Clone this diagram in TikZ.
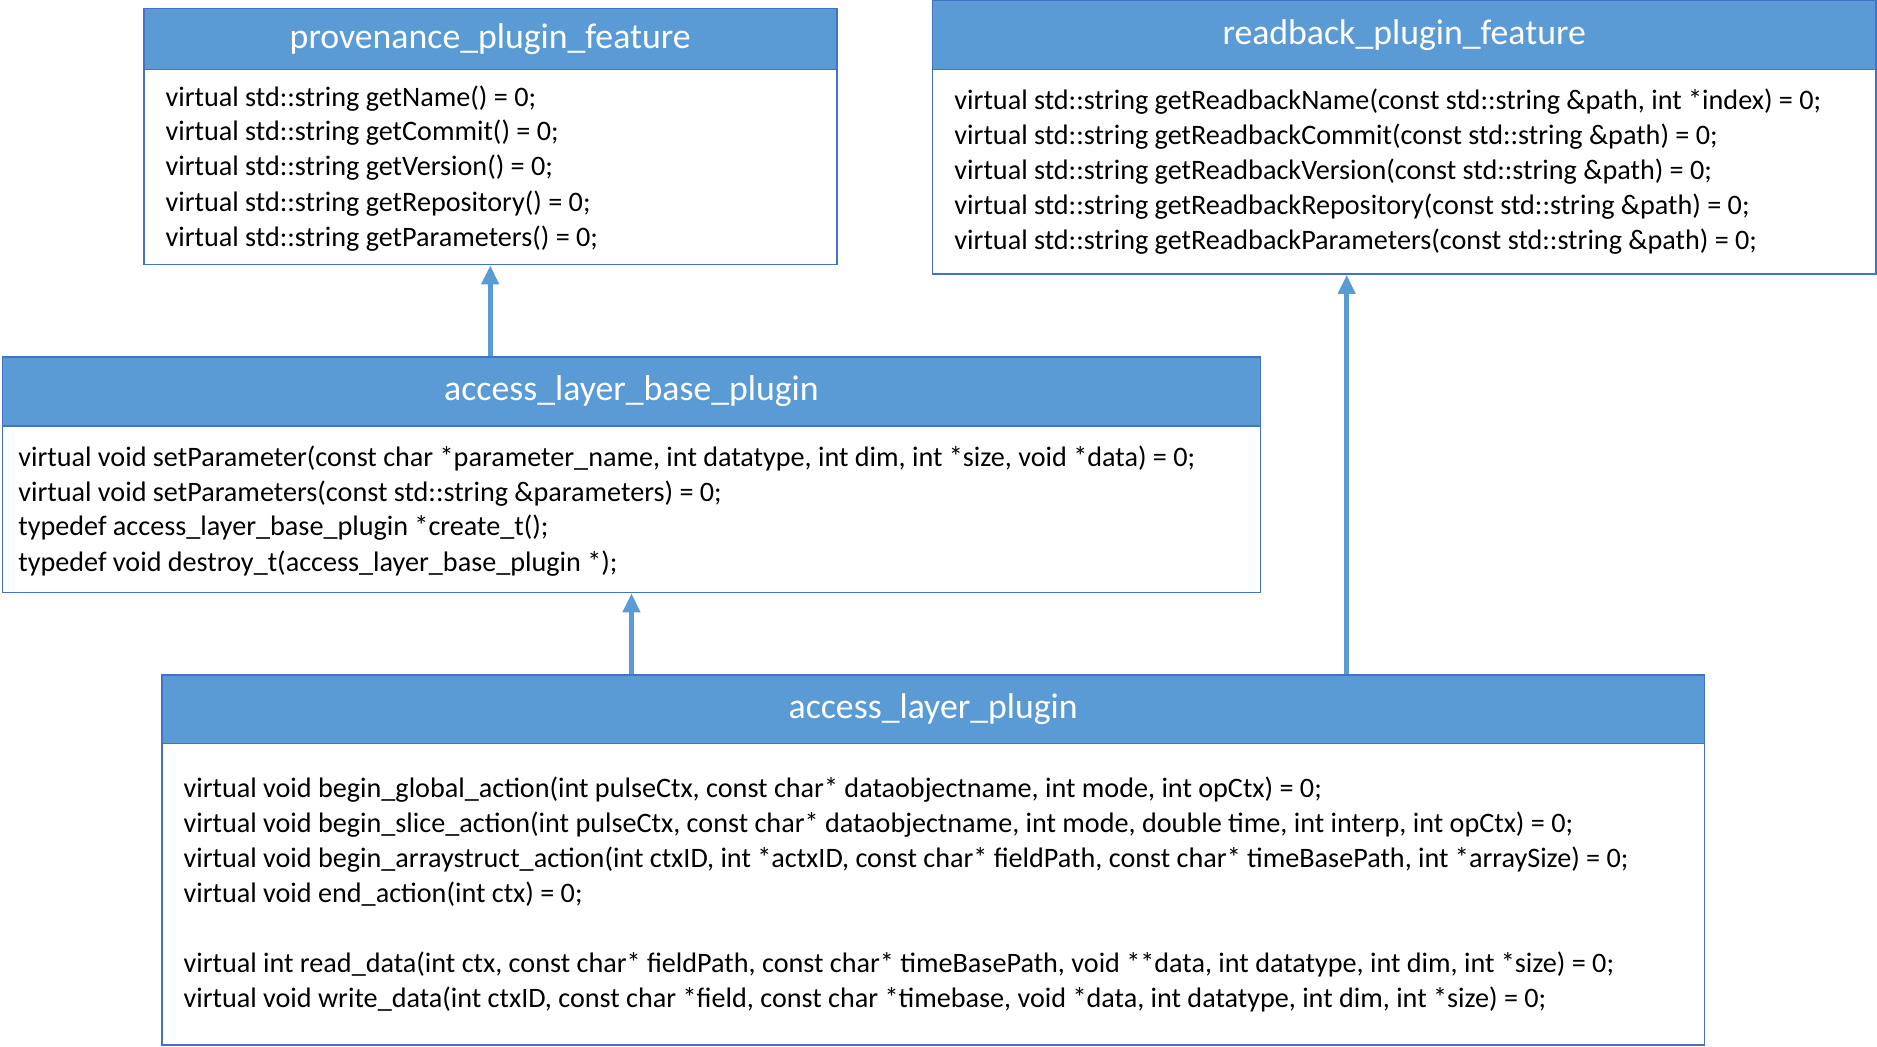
\documentclass[tikz,border=0pt]{standalone}
\usepackage{fontspec}
\setmainfont{Carlito}
\usetikzlibrary{arrows.meta}
\definecolor{umlblue}{HTML}{5B9BD5}
\definecolor{umledge}{HTML}{4472C4}
\tikzset{
  box/.style={draw=umledge, line width=0.8pt, fill=white, inner sep=0pt},
  head/.style={draw=umledge, line width=0.8pt, fill=umlblue, text=white, inner sep=0pt, font=\fontsize{17}{20}\selectfont},
  line/.style={anchor=west, inner sep=0pt, font=\fontsize{13.4}{16}\selectfont},
  arr/.style={draw=umlblue, line width=2.2pt, -{Triangle[length=9pt,width=8pt]}}
}
\begin{document}
\begin{tikzpicture}[x=0.02cm, y=-0.02cm]
    \useasboundingbox (0,0) rectangle (1568,874);

    % provenance_plugin_feature
    \node[box, minimum width=11.58cm, minimum height=4.28cm] (prov) at (409.5,114) {};
    \node[head, minimum width=11.58cm, minimum height=1.02cm] (provh) at (409.5,32.5) {provenance\_plugin\_feature};
    \node[line] (p1) at (138,82) {virtual std::string getName() = 0;};
    \node[line] (p2) at (138,111) {virtual std::string getCommit() = 0;};
    \node[line] (p3) at (138,140) {virtual std::string getVersion() = 0;};
    \node[line] (p4) at (138,170) {virtual std::string getRepository() = 0;};
    \node[line] (p5) at (138,199) {virtual std::string getParameters() = 0;};

    % readback_plugin_feature
    \node[box, minimum width=15.76cm, minimum height=4.58cm] (read) at (1173,114.5) {};
    \node[head, minimum width=15.76cm, minimum height=1.16cm] (readh) at (1173,29) {readback\_plugin\_feature};
    \node[line] (r1) at (797,85) {virtual std::string getReadbackName(const std::string \&path, int *index) = 0;};
    \node[line] (r2) at (797,114) {virtual std::string getReadbackCommit(const std::string \&path) = 0;};
    \node[line] (r3) at (797,143) {virtual std::string getReadbackVersion(const std::string \&path) = 0;};
    \node[line] (r4) at (797,173) {virtual std::string getReadbackRepository(const std::string \&path) = 0;};
    \node[line] (r5) at (797,202) {virtual std::string getReadbackParameters(const std::string \&path) = 0;};

    % access_layer_base_plugin
    \node[box, minimum width=21.02cm, minimum height=3.94cm] (base) at (527.5,396.5) {};
    \node[head, minimum width=21.02cm, minimum height=1.16cm] (baseh) at (527.5,327) {access\_layer\_base\_plugin};
    \node[line] (b1) at (15,383) {virtual void setParameter(const char *parameter\_name, int datatype, int dim, int *size, void *data) = 0;};
    \node[line] (b2) at (15,412) {virtual void setParameters(const std::string \&parameters) = 0;};
    \node[line] (b3) at (15,441) {typedef access\_layer\_base\_plugin *create\_t();};
    \node[line] (b4) at (15,471) {typedef void destroy\_t(access\_layer\_base\_plugin *);};

    % access_layer_plugin
    \node[box, minimum width=25.78cm, minimum height=6.18cm] (plug) at (779.5,718.5) {};
    \node[head, minimum width=25.78cm, minimum height=1.14cm] (plugh) at (779.5,592.5) {access\_layer\_plugin};
    \node[line] (a1) at (153,660) {virtual void begin\_global\_action(int pulseCtx, const char* dataobjectname, int mode, int opCtx) = 0;};
    \node[line] (a2) at (153,689) {virtual void begin\_slice\_action(int pulseCtx, const char* dataobjectname, int mode, double time, int interp, int opCtx) = 0;};
    \node[line] (a3) at (153,718) {virtual void begin\_arraystruct\_action(int ctxID, int *actxID, const char* fieldPath, const char* timeBasePath, int *arraySize) = 0;};
    \node[line] (a4) at (153,747) {virtual void end\_action(int ctx) = 0;};
    \node[line] (a5) at (153,806) {virtual int read\_data(int ctx, const char* fieldPath, const char* timeBasePath, void **data, int datatype, int dim, int *size) = 0;};
    \node[line] (a6) at (153,835) {virtual void write\_data(int ctxID, const char *field, const char *timebase, void *data, int datatype, int dim, int *size) = 0;};

    % inheritance arrows
    \draw[arr] (prov.south |- baseh.north) -- (prov.south);
    \draw[arr] (base.south |- plugh.north) -- (base.south);
    \draw[arr] ([xshift=-0.96cm]read.south |- plugh.north) -- ([xshift=-0.96cm]read.south);
\end{tikzpicture}
\end{document}
